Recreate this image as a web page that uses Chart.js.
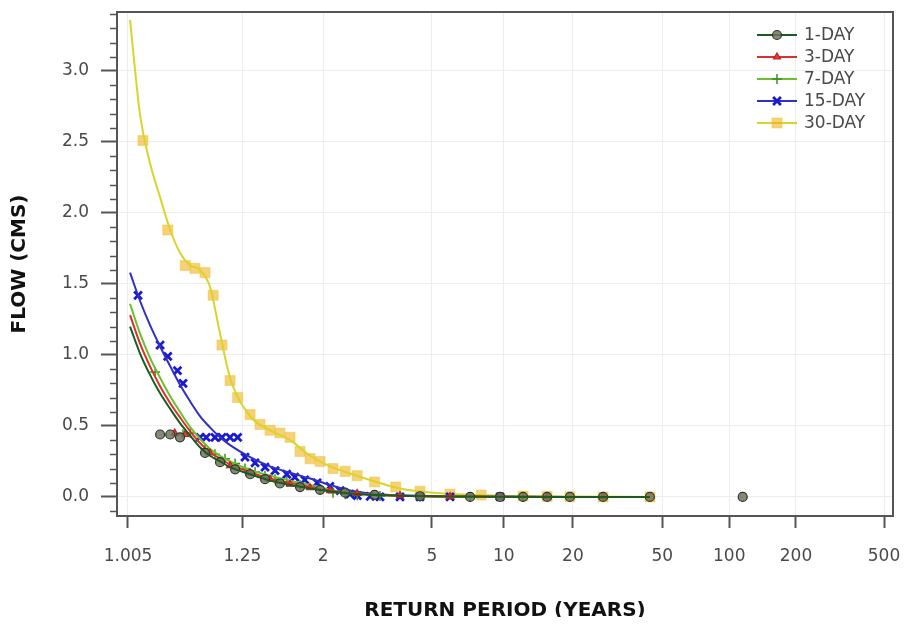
<!DOCTYPE html>
<html>
<head>
<meta charset="utf-8">
<title>Low-flow frequency curves</title>
<script src="https://cdn.jsdelivr.net/npm/chart.js@4/dist/chart.umd.min.js"></script>
<style>
  html, body { margin: 0; padding: 0; background: #ffffff; overflow: hidden; }
  #frame { width: 906px; height: 617px; overflow: hidden; position: relative; }
  #box { width: 906px; height: 630px; position: absolute; left: 0; top: 0; }
</style>
</head>
<body>
<div id="frame"><div id="box"><canvas id="chart"></canvas></div></div>
<script>
// Return-period axis ticks (years) and their printed labels
const RETURN_TICKS = [1.005, 1.25, 2, 5, 10, 20, 50, 100, 200, 500];
const TICK_LABELS = ['1.005', '1.25', '2', '5', '10', '20', '50', '100', '200', '500'];
// Flow axis ticks (cms)
const FLOW_TICKS = [0, 0.5, 1.0, 1.5, 2.0, 2.5, 3.0];

// Series names (flow duration)
const SERIES = ['1-DAY', '3-DAY', '7-DAY', '15-DAY', '30-DAY'];

// Fitted frequency curves: return periods and flows (cms)
const CURVE_PERIODS = [1.0056, 1.0094, 1.015, 1.023, 1.034, 1.048, 1.067, 1.089, 1.117, 1.151, 1.191,
                       1.293, 1.427, 1.602, 1.824, 2.103, 2.453, 2.887, 3.74, 5.93, 9.63, 19.4, 44];
const CURVE_1DAY  = [1.20, 1.01, 0.86, 0.73, 0.62, 0.52, 0.43, 0.35, 0.29, 0.25, 0.21,
                     0.16, 0.115, 0.085, 0.06, 0.04, 0.025, 0.015, 0.008, 0.003, 0.001, 0, 0];
const CURVE_3DAY  = [1.28, 1.08, 0.92, 0.78, 0.66, 0.56, 0.46, 0.38, 0.315, 0.27, 0.23,
                     0.175, 0.127, 0.10, 0.07, 0.045, 0.028, 0.017, 0.009, 0.003, 0.001, 0, 0];
const CURVE_7DAY  = [1.36, 1.15, 0.98, 0.84, 0.71, 0.60, 0.49, 0.41, 0.34, 0.29, 0.25,
                     0.19, 0.15, 0.115, 0.085, 0.05, 0.03, 0.018, 0.009, 0.003, 0.001, 0, 0];
const CURVE_15DAY = [1.58, 1.38, 1.21, 1.06, 0.92, 0.79, 0.67, 0.57, 0.49, 0.42, 0.365,
                     0.28, 0.215, 0.17, 0.13, 0.085, 0.045, 0.025, 0.012, 0.004, 0.001, 0, 0];
const CURVE_30DAY = [3.36, 2.69, 2.35, 2.11, 1.88, 1.72, 1.63, 1.60, 1.48, 1.15, 0.84,
                     0.57, 0.47, 0.40, 0.29, 0.215, 0.165, 0.12, 0.06, 0.022, 0.009, 0.003, 0];

// Observed annual minimum flows (plotting position return period, flow)
const OBS_1DAY_T  = [1.023, 1.034, 1.048, 1.1025, 1.151, 1.214, 1.293, 1.39, 1.508, 1.706, 1.956,
                     2.36, 3.0, 4.48, 7.19, 9.63, 12.1, 15.4, 19.4, 27.2, 44, 115];
const OBS_1DAY_Q  = [0.44, 0.44, 0.42, 0.31, 0.245, 0.195, 0.16, 0.125, 0.095, 0.07, 0.05,
                     0.03, 0.015, 0.005, 0, 0, 0, 0, 0, 0, 0, 0];
const OBS_3DAY_T  = [1.04, 1.057, 1.117, 1.191, 1.293, 1.427, 1.602, 1.824, 2.103, 2.595, 3.74,
                     5.93, 9.63, 15.4, 27.2];
const OBS_3DAY_Q  = [0.45, 0.44, 0.31, 0.22, 0.17, 0.125, 0.09, 0.065, 0.045, 0.025, 0.01,
                     0.003, 0, 0, 0];
const OBS_7DAY_T  = [1.0187, 1.053, 1.067, 1.1025, 1.133, 1.17, 1.214, 1.264, 1.323, 1.39, 1.467,
                     1.57, 1.706, 1.956, 2.15, 2.36, 2.6, 3.14, 4.48, 7.19, 12.1];
const OBS_7DAY_Q  = [0.88, 0.44, 0.45, 0.34, 0.30, 0.27, 0.235, 0.2, 0.175, 0.15, 0.125,
                     0.105, 0.085, 0.05, 0.03, 0.02, 0.012, 0.006, 0.002, 0, 0];
const OBS_15DAY_T = [1.0085, 1.023, 1.031, 1.044, 1.053, 1.089, 1.106, 1.133, 1.158, 1.191, 1.226,
                     1.264, 1.323, 1.39, 1.467, 1.57, 1.65, 1.76, 1.915, 2.10, 2.27, 2.45, 2.6,
                     2.89, 3.14, 3.74, 4.48, 5.93, 9.63];
const OBS_15DAY_Q = [1.42, 1.07, 0.99, 0.89, 0.80, 0.42, 0.42, 0.42, 0.42, 0.42, 0.42,
                     0.28, 0.24, 0.21, 0.185, 0.16, 0.14, 0.12, 0.10, 0.075, 0.045, 0.02, 0.01,
                     0.005, 0, 0, 0, 0, 0];
const OBS_30DAY_T = [1.0108, 1.031, 1.057, 1.077, 1.1025, 1.127, 1.158, 1.191, 1.226, 1.293, 1.355,
                     1.427, 1.508, 1.602, 1.706, 1.824, 1.956, 2.15, 2.36, 2.595, 3.0, 3.6, 4.48,
                     5.93, 8.0, 12.1, 15.4, 19.4, 27.2, 44];
const OBS_30DAY_Q = [2.51, 1.88, 1.63, 1.61, 1.58, 1.42, 1.07, 0.82, 0.70, 0.58, 0.51,
                     0.47, 0.45, 0.42, 0.32, 0.27, 0.25, 0.20, 0.18, 0.15, 0.105, 0.07, 0.04,
                     0.02, 0.014, 0.007, 0.004, 0.002, 0, 0];

const CURVES = [CURVE_1DAY, CURVE_3DAY, CURVE_7DAY, CURVE_15DAY, CURVE_30DAY];
const OBS_T = [OBS_1DAY_T, OBS_3DAY_T, OBS_7DAY_T, OBS_15DAY_T, OBS_30DAY_T];
const OBS_Q = [OBS_1DAY_Q, OBS_3DAY_Q, OBS_7DAY_Q, OBS_15DAY_Q, OBS_30DAY_Q];

// Styling per series
const LINE_COLORS = ['#1d5a1d', '#d93030', '#6cbf2e', '#3030c4', '#d8d42a'];
const MARK_FILL   = ['rgba(115,115,95,0.85)', '#e04040', '#6cbf2e', '#1a1ad0', 'rgba(242,170,15,0.55)'];
const MARK_EDGE   = ['#2a3a2a', '#c02020', '#3f8f1f', '#1a1ad0', 'rgba(235,195,40,0.45)'];
const MARK_STYLE  = ['circle', 'triangle', 'cross', 'crossRot', 'rect'];
const MARK_SIZE   = [4.5, 4, 5, 5.5, 7];
const MARK_LINE   = [1.2, 1.2, 1.5, 2.8, 1.2];
const AXIS_COLOR  = '#555555';
const FONT = 'DejaVu Sans';

// Gumbel (extreme value type I) probability axis for return periods
const gumbel = t => -Math.log(-Math.log(1 - 1 / t));
const gumbelInv = g => 1 / (1 - Math.exp(-Math.exp(-g)));

class GumbelScale extends Chart.Scale {
  determineDataLimits() {
    this.min = this.options.min;
    this.max = this.options.max;
  }
  buildTicks() {
    return RETURN_TICKS.map(v => ({ value: v }));
  }
  getLabelForValue(v) {
    return String(v);
  }
  configure() {
    super.configure();
    this._gStart = gumbel(this.min);
    this._gRange = gumbel(this.max) - this._gStart;
  }
  getPixelForValue(v) {
    if (v === null || v === undefined || isNaN(v)) return NaN;
    return this.getPixelForDecimal((gumbel(v) - this._gStart) / this._gRange);
  }
  getValueForPixel(p) {
    return gumbelInv(this._gStart + this.getDecimalForPixel(p) * this._gRange);
  }
}
GumbelScale.id = 'gumbel';
GumbelScale.defaults = {};
Chart.register(GumbelScale);

const datasets = [];
SERIES.forEach((name, i) => {
  datasets.push({
    label: name + ' observed',
    data: OBS_T[i].map((t, k) => ({ x: t, y: OBS_Q[i][k] })),
    showLine: false,
    pointStyle: MARK_STYLE[i],
    pointRadius: MARK_SIZE[i],
    pointBackgroundColor: MARK_FILL[i],
    pointBorderColor: MARK_EDGE[i],
    pointBorderWidth: MARK_LINE[i],
    order: i * 2 + 1
  });
  datasets.push({
    label: name,
    data: CURVE_PERIODS.map((t, k) => ({ x: t, y: CURVES[i][k] })),
    showLine: true,
    borderColor: LINE_COLORS[i],
    borderWidth: 2,
    pointRadius: 0,
    cubicInterpolationMode: 'monotone',
    order: i * 2
  });
});

// Short minor ticks on the flow axis, the outer frame and the legend box
const decorations = {
  id: 'decorations',
  afterDraw(chart) {
    const { ctx, chartArea: a, scales: { y } } = chart;
    ctx.save();
    ctx.strokeStyle = AXIS_COLOR;
    ctx.lineWidth = 1.5;
    for (let k = -1; k <= 34; k++) {
      if (k % 5 === 0) continue;
      const py = Math.round(y.getPixelForValue(k / 10)) + 0.5;
      ctx.beginPath();
      ctx.moveTo(a.left - 7, py);
      ctx.lineTo(a.left, py);
      ctx.stroke();
    }
    ctx.lineWidth = 2;
    ctx.strokeRect(a.left, a.top, a.right - a.left, a.bottom - a.top);

    const lx0 = 757, lx1 = 797, tx = 804, ly0 = 35, dy = 22;
    ctx.font = '17px "' + FONT + '"';
    ctx.textBaseline = 'middle';
    ctx.textAlign = 'left';
    SERIES.forEach((name, i) => {
      const ly = ly0 + i * dy;
      ctx.strokeStyle = LINE_COLORS[i];
      ctx.lineWidth = 2;
      ctx.beginPath();
      ctx.moveTo(lx0, ly);
      ctx.lineTo(lx1, ly);
      ctx.stroke();
      ctx.fillStyle = MARK_FILL[i];
      ctx.strokeStyle = MARK_EDGE[i];
      ctx.lineWidth = MARK_LINE[i];
      Chart.helpers.drawPoint(ctx, { pointStyle: MARK_STYLE[i], radius: MARK_SIZE[i], rotation: 0, borderWidth: MARK_LINE[i] }, (lx0 + lx1) / 2, ly);
      ctx.fillStyle = '#4a4a4a';
      ctx.fillText(name, tx, ly + 1);
    });
    ctx.restore();
  }
};

Chart.defaults.font.family = FONT;

new Chart(document.getElementById('chart'), {
  type: 'scatter',
  data: { datasets },
  plugins: [decorations],
  options: {
    responsive: true,
    maintainAspectRatio: false,
    animation: false,
    layout: { padding: { left: 0, top: 12, right: 13, bottom: 0 } },
    plugins: { legend: { display: false }, tooltip: { enabled: false } },
    scales: {
      x: {
        type: 'gumbel',
        position: 'bottom',
        min: 1.002619,
        max: 549,
        ticks: {
          autoSkip: false,
          maxRotation: 0,
          padding: 18,
          color: '#4a4a4a',
          font: { size: 17 },
          callback: v => TICK_LABELS[RETURN_TICKS.indexOf(v)]
        },
        grid: { color: '#ededed', lineWidth: 1, tickLength: 12, tickColor: AXIS_COLOR, tickWidth: 2 },
        border: { color: AXIS_COLOR, width: 2 },
        title: {
          display: true,
          text: 'RETURN PERIOD (YEARS)',
          color: '#111111',
          font: { size: 20, weight: 'bold' },
          padding: { top: 0, bottom: 7 }
        },
        afterFit: s => {
          s.height = 114;
          s.paddingLeft = 0;
          s.paddingRight = 0;
        }
      },
      y: {
        type: 'linear',
        min: -0.134,
        max: 3.415,
        ticks: {
          padding: 12,
          color: '#4a4a4a',
          font: { size: 17 },
          callback: v => v.toFixed(1)
        },
        afterBuildTicks: s => { s.ticks = FLOW_TICKS.map(v => ({ value: v })); },
        grid: { color: '#ededed', lineWidth: 1, tickLength: 16, tickColor: AXIS_COLOR, tickWidth: 2 },
        border: { color: AXIS_COLOR, width: 2 },
        title: {
          display: true,
          text: 'FLOW (CMS)',
          color: '#111111',
          font: { size: 20, weight: 'bold' },
          padding: { top: 8, bottom: 0 }
        },
        afterFit: s => {
          s.width = 117;
          s.paddingTop = 0;
          s.paddingBottom = 0;
        }
      }
    }
  }
});
</script>
</body>
</html>
